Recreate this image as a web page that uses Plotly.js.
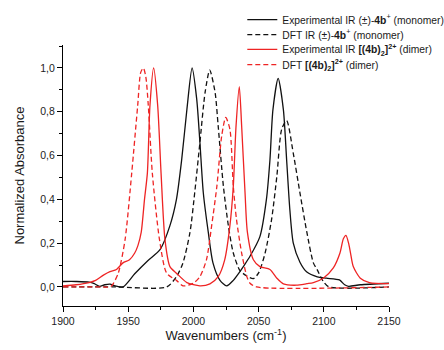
<!DOCTYPE html>
<html>
<head>
<meta charset="utf-8">
<script src="https://cdn.plot.ly/plotly-3.0.1.min.js"></script>
<style>html,body{margin:0;padding:0;background:#fff;}#chart{width:444px;height:350px;}</style>
</head>
<body>
<div id="chart"></div>
<script>
// Experimental IR (±)-4b+ (monomer)
var expMonoX = [1900,1910,1920,1924,1928,1932,1936,1940,1946,1955,1965,1974.4,1982,1987,1991,1995,1999,2002.5,2005,2007.6,2011.4,2015,2020.4,2025.5,2030.6,2035.7,2038.3,2043.4,2051,2056,2058.7,2061,2065,2069,2071.5,2074,2076.6,2081.7,2087,2095,2102,2112,2116,2119,2128,2150];
var expMonoY = [0.025,0.025,0.022,0.015,0.003,0.01,0.013,0.005,0.0,0.06,0.12,0.17,0.28,0.4,0.58,0.81,1.0,0.86,0.66,0.43,0.25,0.11,0.03,0.005,0.03,0.07,0.093,0.14,0.23,0.4,0.58,0.81,0.953,0.81,0.58,0.35,0.2,0.113,0.068,0.046,0.04,0.032,0.01,0.003,0.01,0.017];

// DFT IR (±)-4b+ (monomer)
var dftMonoX = [1900,1940,1979.5,1987,1992,1997.4,2001,2005,2009,2012.5,2016.6,2019,2023,2026.8,2030.6,2035.7,2041,2046,2050,2055,2060,2064,2067.7,2071.5,2076.6,2081.7,2087,2092,2095,2099.6,2104,2150];
var dftMonoY = [0,0,0,0.047,0.11,0.25,0.43,0.66,0.89,0.99,0.89,0.735,0.46,0.28,0.155,0.075,0.05,0.038,0.064,0.155,0.31,0.506,0.72,0.76,0.61,0.43,0.25,0.11,0.078,0.025,0,0];

// Experimental IR [(4b)2]2+ (dimer)
var expDimX = [1900,1910,1920,1925,1931,1936,1941,1946,1951,1955,1957.5,1960,1962.5,1964.7,1966.7,1969.5,1972.6,1975.2,1978.2,1982,1987,1995,2005,2012.7,2019,2024,2028,2030.6,2032.7,2035.2,2037,2039.6,2041.4,2046,2051,2058.7,2064,2069,2079,2087,2092,2099.6,2107.3,2112.4,2115,2117,2119,2120.5,2122.6,2128,2135,2150];
var expDimY = [0.005,0.01,0.02,0.03,0.054,0.07,0.08,0.11,0.124,0.155,0.19,0.25,0.4,0.52,0.83,1.0,0.83,0.52,0.216,0.093,0.063,0.02,0.005,0.014,0.047,0.124,0.28,0.46,0.735,0.915,0.735,0.43,0.25,0.124,0.093,0.08,0.04,0.014,0.008,0.015,0.02,0.04,0.087,0.155,0.22,0.236,0.2,0.155,0.093,0.04,0.02,0.015];

// DFT [(4b)2]2+ (dimer)
var dftDimX = [1900,1930,1936,1938,1942.4,1947.6,1952.7,1957.3,1959.6,1961.6,1963.5,1965.4,1968.5,1974,1979.5,1987,1992,2000,2005,2010,2014,2018,2021.7,2024.8,2028,2030.6,2033,2037,2041,2043.4,2048.5,2150];
var dftDimY = [0,0,0,0.01,0.063,0.216,0.52,0.83,0.98,1.0,0.96,0.83,0.52,0.216,0.063,0.03,0.005,0.017,0.047,0.124,0.28,0.46,0.69,0.774,0.72,0.46,0.31,0.155,0.047,0.017,0,0];

var legendNames = [
  'Experimental IR (±)-<b>4b</b><sup>+</sup> (monomer)',
  'DFT IR (±)-<b>4b</b><sup>+</sup> (monomer)',
  'Experimental IR <b>[(4b)<sub>2</sub>]<sup>2+</sup></b> (dimer)',
  'DFT <b>[(4b)<sub>2</sub>]<sup>2+</sup></b> (dimer)'
];

var BLACK = '#111111', RED = '#ee2424';
function tr(x, y, name, color, dash, leg) {
  return {x: x, y: y, name: name, type: 'scatter', mode: 'lines',
    line: {color: color, width: 1.3, dash: dash, shape: 'spline', smoothing: 0.7},
    legend: leg, hoverinfo: 'skip'};
}
var data = [
  tr(expMonoX, expMonoY, legendNames[0], BLACK, 'solid', 'legend'),
  tr(dftMonoX, dftMonoY, legendNames[1], BLACK, '5px,3px', 'legend2'),
  tr(expDimX, expDimY, legendNames[2], RED, 'solid', 'legend3'),
  tr(dftDimX, dftDimY, legendNames[3], RED, '5px,3px', 'legend4')
];

function leg(y) {
  return {x: 0.55, xanchor: 'left', y: y, yanchor: 'middle', bgcolor: 'rgba(0,0,0,0)',
    borderwidth: 0, font: {family: 'Liberation Sans, Arial, sans-serif', size: 10.3, color: '#1a1a1a'}, itemwidth: 30};
}
var tickFont = {family: 'Liberation Sans, Arial, sans-serif', size: 10.5, color: '#222'};
var layout = {
  width: 444, height: 350,
  margin: {l: 63, r: 55, t: 45, b: 44, autoexpand: false},
  paper_bgcolor: '#fff', plot_bgcolor: '#fff',
  separators: ',.',
  font: {family: 'Liberation Sans, Arial, sans-serif', color: '#222'},
  showlegend: true,
  legend: leg(1.097),
  legend2: leg(1.040),
  legend3: leg(0.983),
  legend4: leg(0.925),
  xaxis: {
    range: [1900, 2150], tick0: 1900, dtick: 50, tickformat: 'd',
    ticks: 'outside', ticklen: 5, tickwidth: 1, tickcolor: '#000',
    showline: true, linecolor: '#000', linewidth: 1, mirror: false,
    showgrid: false, zeroline: false,
    minor: {dtick: 25, ticks: 'outside', ticklen: 3, tickwidth: 1, tickcolor: '#000', showgrid: false},
    tickfont: tickFont,
    title: {text: 'Wavenumbers (cm<sup>-1</sup>)', font: {size: 13, color: '#1a1a1a'}, standoff: 5}
  },
  yaxis: {
    range: [-0.087, 1.105], tick0: 0, dtick: 0.2, tickformat: '.1f',
    ticks: 'outside', ticklen: 5, tickwidth: 1, tickcolor: '#000',
    showline: true, linecolor: '#000', linewidth: 1, mirror: false,
    showgrid: false, zeroline: false,
    minor: {dtick: 0.1, ticks: 'outside', ticklen: 3, tickwidth: 1, tickcolor: '#000', showgrid: false},
    tickfont: tickFont,
    title: {text: 'Normalized Absorbance', font: {size: 13, color: '#1a1a1a'}, standoff: 12}
  }
};
Plotly.newPlot('chart', data, layout, {staticPlot: true, displayModeBar: false});
</script>
</body>
</html>
